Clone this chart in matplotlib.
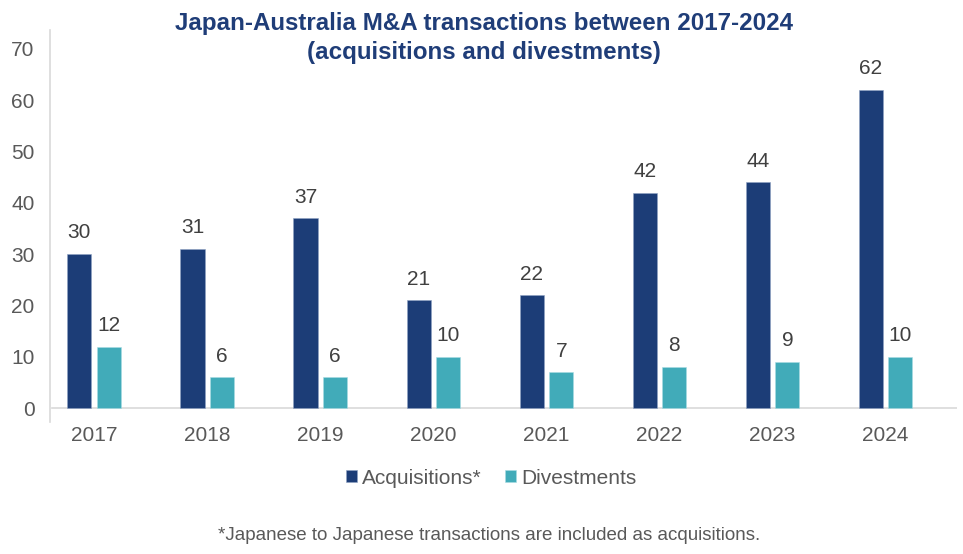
import numpy as np
import matplotlib.pyplot as plt

plt.rcParams['font.family'] = ['Liberation Sans', 'DejaVu Sans']

years = ['2017', '2018', '2019', '2020', '2021', '2022', '2023', '2024']
acquisitions = [30, 31, 37, 21, 22, 42, 44, 62]
divestments = [12, 6, 6, 10, 7, 8, 9, 10]

navy = '#1C3D77'
teal = '#41ABB9'
grey = '#595959'

fig = plt.figure(figsize=(9.63, 5.54), dpi=100)
ax = fig.add_axes([0.0516, 0.238, 0.942, 0.708])

x = np.arange(len(years))
w = 0.213
off = 0.131
b1 = ax.bar(x - off, acquisitions, w, color=navy, edgecolor='#8FA3C4', linewidth=0.4, label='Acquisitions*')
b2 = ax.bar(x + off, divestments, w, color=teal, edgecolor='#A9DCE3', linewidth=0.4, label='Divestments')

for bars in (b1, b2):
    for r in bars:
        ax.text(r.get_x() + r.get_width() / 2, r.get_height() + 2.3, str(int(r.get_height())),
                ha='center', va='bottom', fontsize=15, color='#404040')

ax.set_xlim(-0.394, 7.63)
ax.set_ylim(-2.7, 73.7)
ax.set_yticks(np.arange(0, 71, 10))
ax.set_xticks(x)
ax.set_xticklabels(years)
ax.tick_params(axis='both', length=0, labelsize=15, labelcolor=grey)
ax.tick_params(axis='y', pad=11)
ax.tick_params(axis='x', pad=3)

for s in ['top', 'right', 'bottom']:
    ax.spines[s].set_visible(False)
ax.spines['left'].set_color('#D9D9D9')
ax.spines['left'].set_linewidth(1.2)
ax.axhline(0, xmin=0.003, xmax=1, color='#D9D9D9', linewidth=1.2, zorder=0)

fig.text(0.503, 0.978, 'Japan-Australia M&A transactions between 2017-2024\n(acquisitions and divestments)',
         ha='center', va='top', fontsize=17.4, fontweight='bold', color='#1F3D78', linespacing=1.3)

leg = fig.legend(handles=[b1, b2], loc='center', bbox_to_anchor=(0.51, 0.137), ncol=2, frameon=False,
                 fontsize=15, handlelength=0.52, handleheight=0.52, handletextpad=0.25, columnspacing=1.15)
for t in leg.get_texts():
    t.set_color(grey)

fig.text(0.508, 0.034, '*Japanese to Japanese transactions are included as acquisitions.',
         ha='center', va='center', fontsize=13.5, color=grey)

fig.savefig('out.png', dpi=100)
